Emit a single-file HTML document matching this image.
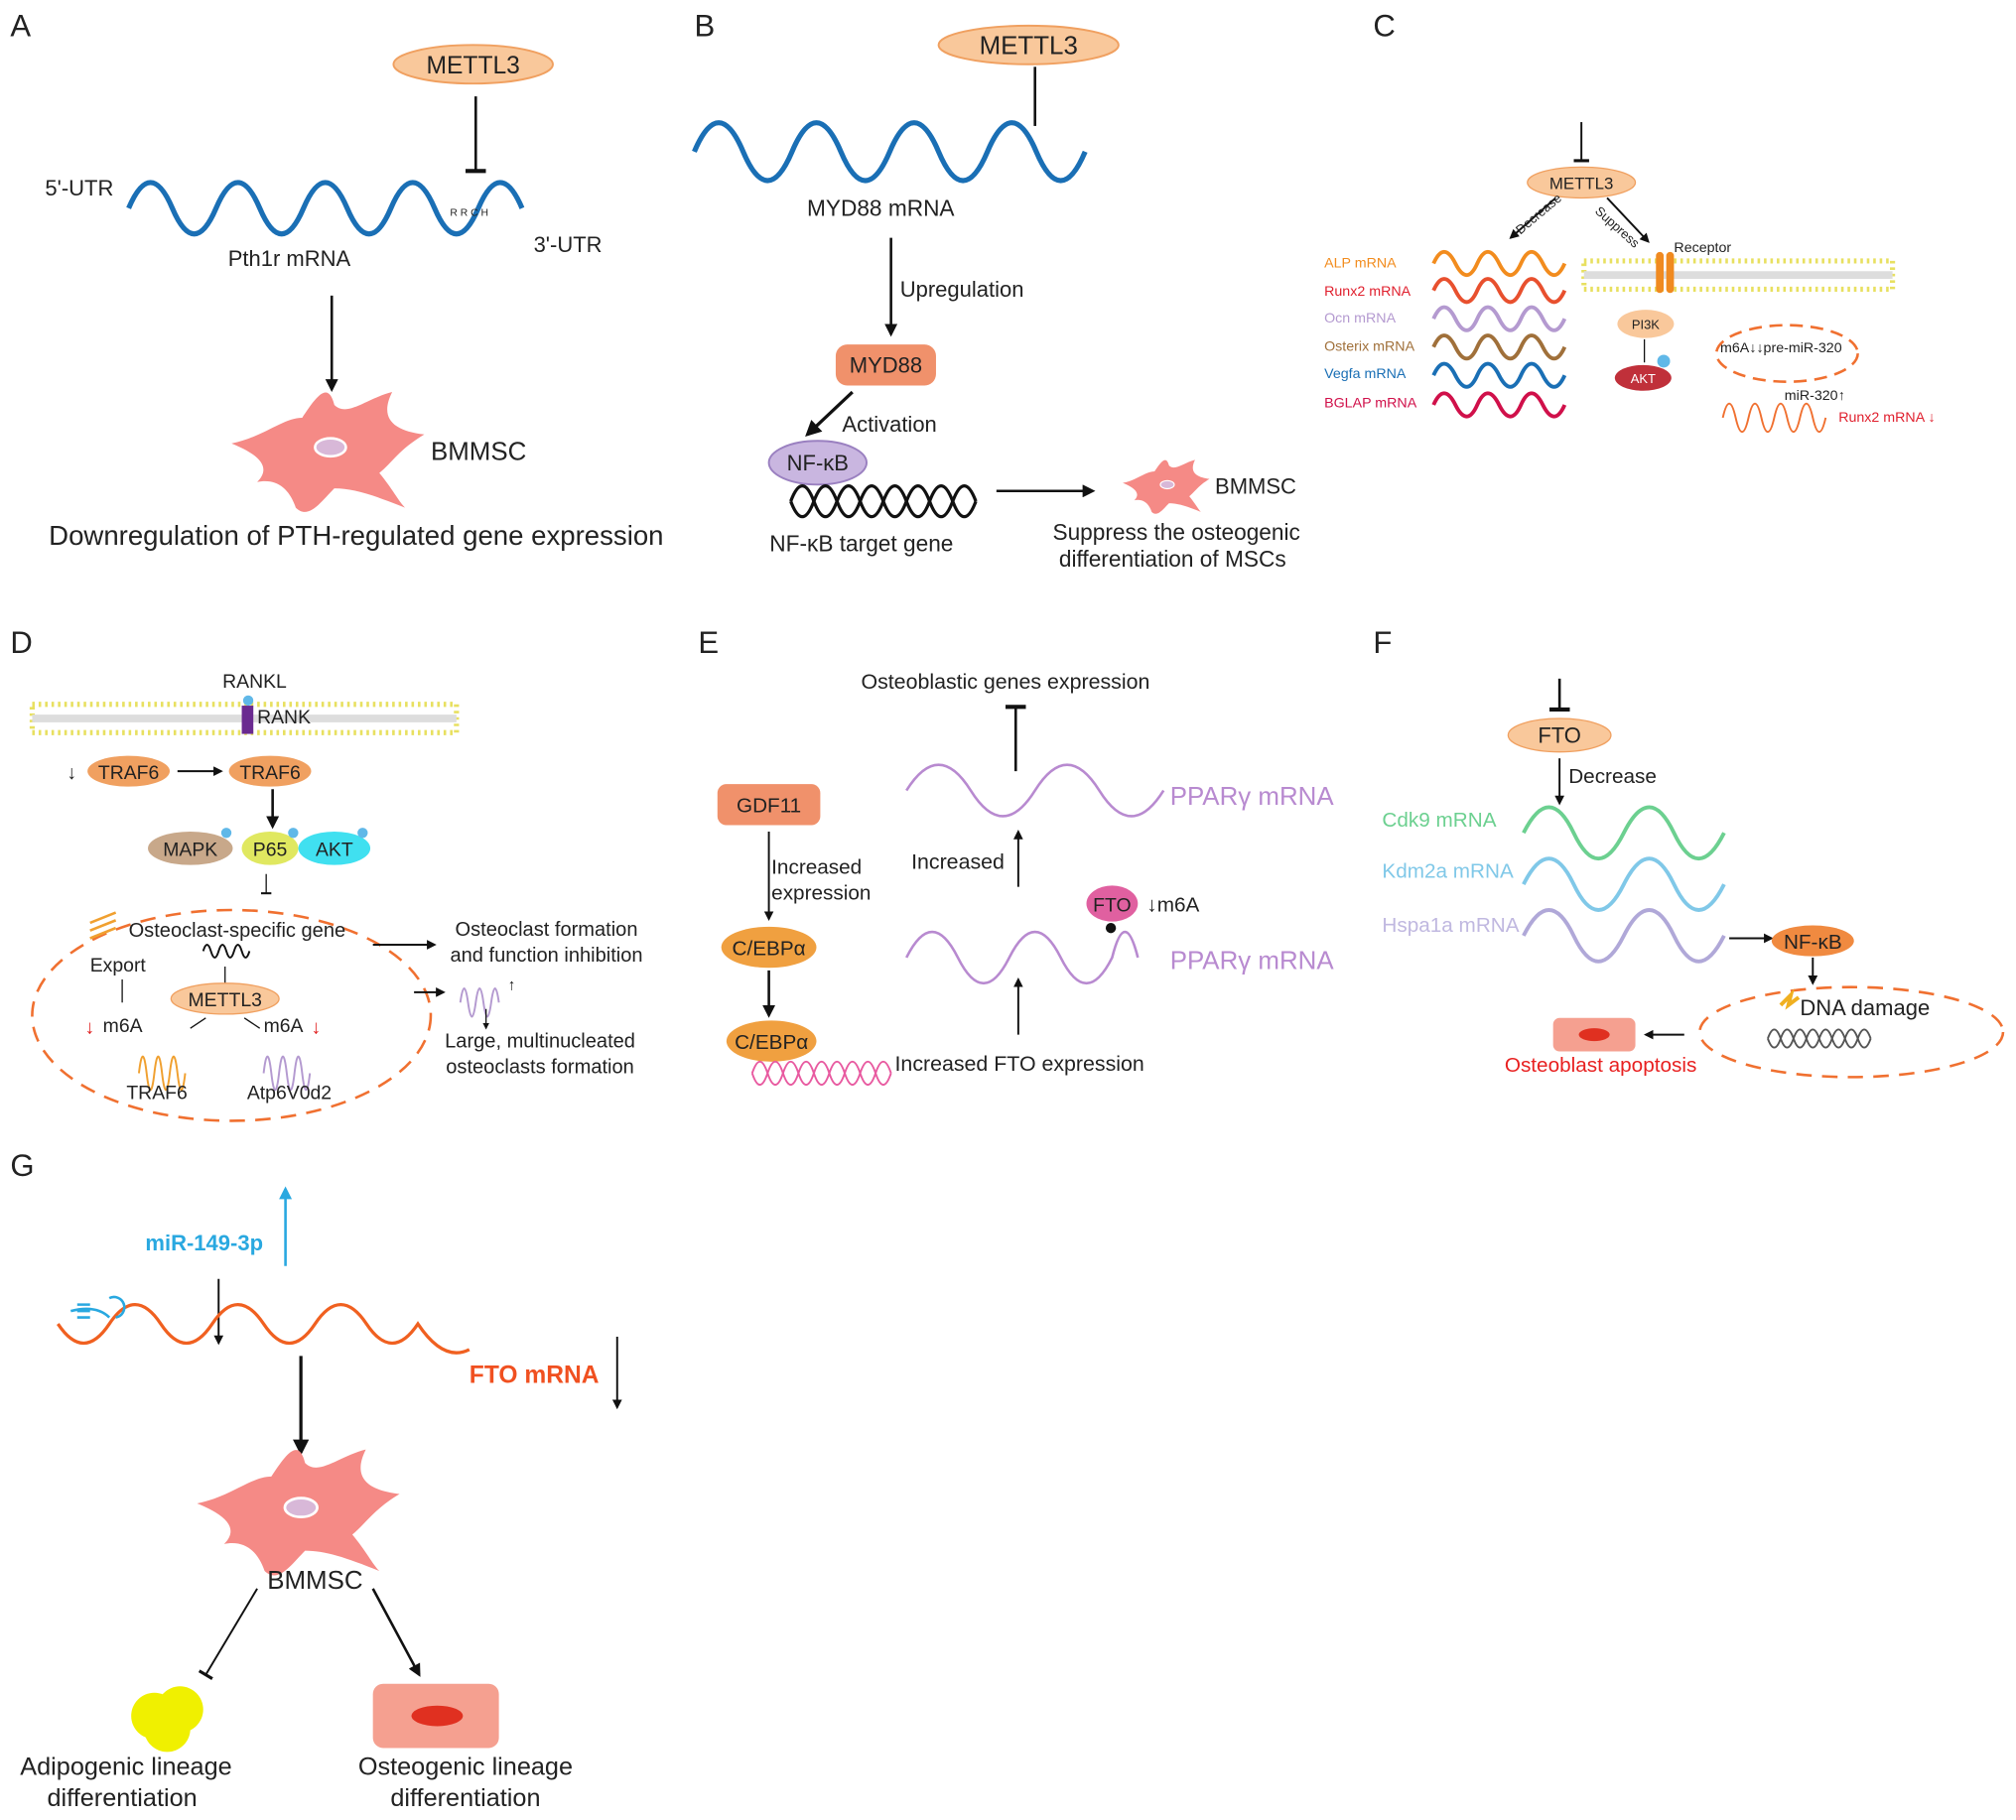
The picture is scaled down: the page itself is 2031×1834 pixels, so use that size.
<!DOCTYPE html>
<html><head><meta charset="utf-8"><style>
html,body{margin:0;padding:0;background:#fff}
svg{display:block}
text{font-family:"Liberation Sans",Arial,sans-serif;fill:#222}
</style></head><body>
<svg width="2031" height="1834" viewBox="0 0 1568 1416" xmlns="http://www.w3.org/2000/svg">
<defs>
<marker id="ar" viewBox="0 0 10 10" refX="8" refY="5" markerWidth="5" markerHeight="5" orient="auto"><path d="M0,0L10,5L0,10z" fill="#111"/></marker>
<marker id="arc" viewBox="0 0 10 10" refX="8" refY="5" markerWidth="5" markerHeight="5" orient="auto"><path d="M0,0L10,5L0,10z" fill="#29a8e0"/></marker>
<marker id="bar" viewBox="0 0 10 10" refX="5" refY="5" markerWidth="8" markerHeight="8" orient="auto"><path d="M5,0L5,10" stroke="#111" stroke-width="2"/></marker>
<g id="cell"><path d="M-75,-5 C-50,-10 -35,-25 -20,-25 C-10,-40 0,-55 5,-35 C15,-25 30,-40 50,-45 C40,-25 50,-15 75,-12 C55,0 50,10 40,18 C50,30 55,40 60,45 C35,35 20,30 5,30 C-5,40 -15,55 -25,45 C-30,30 -40,22 -55,25 C-45,15 -50,5 -75,-5Z" fill="#f58a86"/><ellipse cx="2" cy="-2" rx="12" ry="7" fill="#d8b8d8" stroke="#fff" stroke-width="2"/></g>
</defs>

<!-- Panel A -->
<text x="8" y="28" font-size="24">A</text>
<ellipse cx="368" cy="50" rx="62" ry="15" fill="#f9c89b" stroke="#f0a060" stroke-width="1.5"/>
<text x="368" y="57" font-size="19" text-anchor="middle">METTL3</text>
<line x1="370" y1="75" x2="370" y2="133" stroke="#111" stroke-width="2" marker-end="url(#bar)"/>
<path d="M100,162 q17,-40 34,0 t34,0 t34,0 t34,0 t34,0 t34,0 t34,0 t34,0 t34,0" fill="none" stroke="#1a6fb5" stroke-width="4"/>
<text x="35" y="152" font-size="17">5'-UTR</text>
<text x="415" y="196" font-size="17">3'-UTR</text>
<text x="350" y="168" font-size="8">R R C H</text>
<text x="225" y="207" font-size="17" text-anchor="middle">Pth1r mRNA</text>
<line x1="258" y1="230" x2="258" y2="303" stroke="#111" stroke-width="2" marker-end="url(#ar)"/>
<use href="#cell" transform="translate(255,350) scale(1)"/>
<text x="335" y="358" font-size="20">BMMSC</text>
<text x="277" y="424" font-size="21.3" text-anchor="middle">Downregulation of PTH-regulated gene expression</text>

<!-- Panel B -->
<text x="540" y="28" font-size="24">B</text>
<ellipse cx="800" cy="35" rx="70" ry="15" fill="#f9c89b" stroke="#f0a060" stroke-width="1.5"/>
<text x="800" y="42" font-size="20" text-anchor="middle">METTL3</text>
<line x1="805" y1="52" x2="805" y2="98" stroke="#111" stroke-width="2"/>
<path d="M540,118 q19,-45 38,0 t38,0 t38,0 t38,0 t38,0 t38,0 t38,0 t38,0" fill="none" stroke="#1a6fb5" stroke-width="4"/>
<text x="685" y="168" font-size="17.5" text-anchor="middle">MYD88 mRNA</text>
<line x1="693" y1="185" x2="693" y2="260" stroke="#111" stroke-width="2" marker-end="url(#ar)"/>
<text x="700" y="231" font-size="17">Upregulation</text>
<rect x="650" y="268" width="78" height="32" rx="9" fill="#f0916b"/>
<text x="689" y="290" font-size="17" text-anchor="middle">MYD88</text>
<line x1="663" y1="305" x2="628" y2="338" stroke="#111" stroke-width="2.5" marker-end="url(#ar)"/>
<text x="655" y="336" font-size="17">Activation</text>
<ellipse cx="636" cy="360" rx="38" ry="17" fill="#c9b6e0" stroke="#9a80c0" stroke-width="1.5"/>
<text x="636" y="366" font-size="17" text-anchor="middle">NF-κB</text>
<path d="M615,390 q9,-24 18,0 t18,0 t18,0 t18,0 t18,0 t18,0 t18,0 t18,0" fill="none" stroke="#111" stroke-width="2.5"/>
<path d="M615,390 q9,24 18,0 t18,0 t18,0 t18,0 t18,0 t18,0 t18,0 t18,0" fill="none" stroke="#111" stroke-width="2.5"/>
<text x="670" y="429" font-size="17.5" text-anchor="middle">NF-κB target gene</text>
<line x1="775" y1="382" x2="850" y2="382" stroke="#111" stroke-width="2" marker-end="url(#ar)"/>
<use href="#cell" transform="translate(907,378) scale(0.45)"/>
<text x="945" y="384" font-size="17">BMMSC</text>
<text x="915" y="420" font-size="17.5" text-anchor="middle">Suppress the osteogenic</text>
<text x="912" y="441" font-size="17.5" text-anchor="middle">differentiation of MSCs</text>

<!-- Panel C -->
<text x="1068" y="28" font-size="24">C</text>
<line x1="1230" y1="95" x2="1230" y2="125" stroke="#111" stroke-width="1.5" marker-end="url(#bar)"/>
<ellipse cx="1230" cy="142" rx="42" ry="12" fill="#f9c89b" stroke="#f0a060"/>
<text x="1230" y="147" font-size="13" text-anchor="middle">METTL3</text>
<line x1="1210" y1="154" x2="1175" y2="185" stroke="#111" stroke-width="1.5" marker-end="url(#ar)"/>
<line x1="1250" y1="154" x2="1282" y2="188" stroke="#111" stroke-width="1.5" marker-end="url(#ar)"/>
<text x="1180" y="180" font-size="10" transform="rotate(-40 1185 178)">Decrease</text>
<text x="1240" y="165" font-size="10" transform="rotate(42 1240 165)">Suppress</text>
<text x="1030" y="208" font-size="11" style="fill:#f28c1e">ALP mRNA</text>
<text x="1030" y="230" font-size="11" style="fill:#e0202e">Runx2 mRNA</text>
<text x="1030" y="251" font-size="11" style="fill:#b49ad0">Ocn mRNA</text>
<text x="1030" y="273" font-size="11" style="fill:#a0703a">Osterix mRNA</text>
<text x="1030" y="294" font-size="11" style="fill:#1a6fb5">Vegfa mRNA</text>
<text x="1030" y="317" font-size="11" style="fill:#d0104a">BGLAP mRNA</text>
<g fill="none" stroke-width="3">
<path d="M1115,205 q8,-18 17,0 t17,0 t17,0 t17,0 t17,0 t17,0" stroke="#f28c1e"/>
<path d="M1115,226 q8,-18 17,0 t17,0 t17,0 t17,0 t17,0 t17,0" stroke="#e8502e"/>
<path d="M1115,248 q8,-18 17,0 t17,0 t17,0 t17,0 t17,0 t17,0" stroke="#b49ad0"/>
<path d="M1115,270 q8,-18 17,0 t17,0 t17,0 t17,0 t17,0 t17,0" stroke="#a0703a"/>
<path d="M1115,292 q8,-18 17,0 t17,0 t17,0 t17,0 t17,0 t17,0" stroke="#1a6fb5"/>
<path d="M1115,315 q8,-18 17,0 t17,0 t17,0 t17,0 t17,0 t17,0" stroke="#d0104a"/>
</g>
<rect x="1232" y="203" width="240" height="22" fill="#fff" stroke="#e8e060" stroke-dasharray="2 3" stroke-width="4"/>
<line x1="1232" y1="214" x2="1472" y2="214" stroke="#ddd" stroke-width="6"/>
<rect x="1288" y="196" width="6" height="32" rx="3" fill="#f08a20"/><rect x="1296" y="196" width="6" height="32" rx="3" fill="#f08a20"/>
<text x="1302" y="196" font-size="11">Receptor</text>
<ellipse cx="1280" cy="252" rx="22" ry="11" fill="#f9c89b"/><text x="1280" y="256" font-size="10" text-anchor="middle">PI3K</text>
<line x1="1279" y1="264" x2="1279" y2="282" stroke="#111" stroke-width="1"/>
<ellipse cx="1278" cy="294" rx="22" ry="10" fill="#c0303a"/><text x="1278" y="298" font-size="10" text-anchor="middle" style="fill:#fff">AKT</text>
<circle cx="1294" cy="281" r="5" fill="#60b8e8"/>
<ellipse cx="1390" cy="275" rx="55" ry="22" fill="none" stroke="#f07030" stroke-width="2" stroke-dasharray="10 6"/>
<text x="1338" y="274" font-size="11">m6A↓↓pre-miR-320</text>
<text x="1388" y="311" font-size="11">miR-320↑</text>
<path d="M1340,325 q5,-22 10,0 t10,0 t10,0 t10,0 t10,0 t10,0 t10,0 t10,0" fill="none" stroke="#f07030" stroke-width="1.5"/>
<text x="1430" y="328" font-size="11" style="fill:#e0202e">Runx2 mRNA ↓</text>

<!-- Panel D -->
<text x="8" y="508" font-size="24">D</text>
<rect x="25" y="548" width="330" height="22" fill="#fff" stroke="#e8e060" stroke-dasharray="2 3" stroke-width="4"/>
<line x1="25" y1="559" x2="355" y2="559" stroke="#ddd" stroke-width="6"/>
<text x="198" y="535" font-size="15" text-anchor="middle">RANKL</text>
<circle cx="193" cy="545" r="4" fill="#60b8e8"/>
<rect x="188" y="549" width="9" height="22" fill="#6a2a90"/>
<text x="200" y="563" font-size="15">RANK</text>
<text x="52" y="606" font-size="15">↓</text>
<ellipse cx="100" cy="600" rx="32" ry="12" fill="#f0a060"/><text x="100" y="606" font-size="15" text-anchor="middle">TRAF6</text>
<line x1="138" y1="600" x2="172" y2="600" stroke="#111" stroke-width="1.5" marker-end="url(#ar)"/>
<ellipse cx="210" cy="600" rx="32" ry="12" fill="#f0a060"/><text x="210" y="606" font-size="15" text-anchor="middle">TRAF6</text>
<line x1="212" y1="614" x2="212" y2="643" stroke="#111" stroke-width="2" marker-end="url(#ar)"/>
<ellipse cx="148" cy="660" rx="33" ry="13" fill="#c8a88a"/><text x="148" y="666" font-size="15" text-anchor="middle">MAPK</text>
<ellipse cx="210" cy="660" rx="22" ry="13" fill="#e0e860"/><text x="210" y="666" font-size="15" text-anchor="middle">P65</text>
<ellipse cx="260" cy="660" rx="28" ry="13" fill="#40e0f0"/><text x="260" y="666" font-size="15" text-anchor="middle">AKT</text>
<circle cx="176" cy="648" r="4" fill="#60b8e8"/><circle cx="228" cy="648" r="4" fill="#60b8e8"/><circle cx="282" cy="648" r="4" fill="#60b8e8"/>
<line x1="207" y1="680" x2="207" y2="695" stroke="#111" stroke-width="1" marker-end="url(#bar)"/>
<ellipse cx="180" cy="790" rx="155" ry="82" fill="none" stroke="#f07030" stroke-width="2" stroke-dasharray="12 8"/>
<text x="100" y="729" font-size="15.5">Osteoclast-specific gene</text>
<path d="M158,740 q3,-10 6,0 t6,0 t6,0 t6,0 t6,0 t6,0" fill="none" stroke="#111" stroke-width="1.5"/>
<path d="M70,718 l20,-8 M70,724 l20,-8 M70,730 l20,-8" stroke="#f0a030" stroke-width="2"/>
<text x="70" y="756" font-size="15">Export</text>
<line x1="95" y1="780" x2="95" y2="762" stroke="#111" stroke-width="1"/>
<line x1="175" y1="752" x2="175" y2="765" stroke="#111" stroke-width="1"/>
<ellipse cx="175" cy="777" rx="42" ry="12" fill="#f9c89b" stroke="#f0a060"/><text x="175" y="783" font-size="15" text-anchor="middle">METTL3</text>
<path d="M160,792 l-12,8 M190,792 l12,8" stroke="#111"/>
<text x="66" y="804" font-size="15" style="fill:#e02020">↓</text><text x="80" y="803" font-size="15">m6A</text>
<text x="205" y="803" font-size="15">m6A</text><text x="242" y="804" font-size="15" style="fill:#e02020">↓</text>
<path d="M108,835 q3,-26 6,0 t6,0 t6,0 t6,0 t6,0 t6,0" fill="none" stroke="#f0a030" stroke-width="1.5"/>
<path d="M205,835 q3,-26 6,0 t6,0 t6,0 t6,0 t6,0 t6,0" fill="none" stroke="#b49ad0" stroke-width="1.5"/>
<text x="122" y="855" font-size="15" text-anchor="middle">TRAF6</text>
<text x="225" y="855" font-size="15" text-anchor="middle">Atp6V0d2</text>
<line x1="290" y1="735" x2="338" y2="735" stroke="#111" stroke-width="1.5" marker-end="url(#ar)"/>
<line x1="322" y1="772" x2="345" y2="772" stroke="#111" stroke-width="1.5" marker-end="url(#ar)"/>
<text x="425" y="728" font-size="15.5" text-anchor="middle">Osteoclast formation</text>
<text x="425" y="748" font-size="15.5" text-anchor="middle">and function inhibition</text>
<path d="M358,780 q3,-22 6,0 t6,0 t6,0 t6,0 t6,0" fill="none" stroke="#b49ad0" stroke-width="1.5"/>
<text x="395" y="770" font-size="12">↑</text>
<line x1="378" y1="785" x2="378" y2="800" stroke="#111" marker-end="url(#ar)"/>
<text x="420" y="815" font-size="15.5" text-anchor="middle">Large, multinucleated</text>
<text x="420" y="835" font-size="15.5" text-anchor="middle">osteoclasts formation</text>

<!-- Panel E -->
<text x="543" y="508" font-size="24">E</text>
<rect x="558" y="610" width="80" height="32" rx="7" fill="#f0916b"/>
<text x="598" y="632" font-size="16" text-anchor="middle">GDF11</text>
<line x1="598" y1="647" x2="598" y2="715" stroke="#111" stroke-width="1.5" marker-end="url(#ar)"/>
<text x="600" y="680" font-size="16">Increased</text>
<text x="600" y="700" font-size="16">expression</text>
<ellipse cx="598" cy="737" rx="37" ry="16" fill="#f0a040"/><text x="598" y="743" font-size="16" text-anchor="middle">C/EBPα</text>
<line x1="598" y1="755" x2="598" y2="790" stroke="#111" stroke-width="2" marker-end="url(#ar)"/>
<ellipse cx="600" cy="810" rx="35" ry="16" fill="#f0a040"/><text x="600" y="816" font-size="16" text-anchor="middle">C/EBPα</text>
<path d="M585,835 q6,-18 12,0 t12,0 t12,0 t12,0 t12,0 t12,0 t12,0 t12,0 t12,0" fill="none" stroke="#e85aa0" stroke-width="1.5"/>
<path d="M585,835 q6,18 12,0 t12,0 t12,0 t12,0 t12,0 t12,0 t12,0 t12,0 t12,0" fill="none" stroke="#e85aa0" stroke-width="1.5"/>
<text x="782" y="536" font-size="16.5" text-anchor="middle">Osteoblastic genes expression</text>
<line x1="790" y1="600" x2="790" y2="550" stroke="#111" stroke-width="2" marker-end="url(#bar)"/>
<path d="M705,615 q25,-40 50,0 t50,0 t50,0 t50,0" fill="none" stroke="#b88ad0" stroke-width="2"/>
<text x="910" y="626" font-size="20" style="fill:#b88ad0">PPARγ mRNA</text>
<text x="745" y="676" font-size="16.5" text-anchor="middle">Increased</text>
<line x1="792" y1="690" x2="792" y2="647" stroke="#111" stroke-width="1.5" marker-end="url(#ar)"/>
<path d="M705,745 q20,-40 40,0 t40,0 t40,0 t40,0 q10,-40 20,0" fill="none" stroke="#b88ad0" stroke-width="2"/>
<circle cx="864" cy="722" r="4" fill="#111"/>
<ellipse cx="865" cy="703" rx="20" ry="14" fill="#e060a0"/><text x="865" y="709" font-size="15" text-anchor="middle">FTO</text>
<text x="892" y="709" font-size="16">↓m6A</text>
<text x="910" y="754" font-size="20" style="fill:#b88ad0">PPARγ mRNA</text>
<line x1="792" y1="805" x2="792" y2="762" stroke="#111" stroke-width="1.5" marker-end="url(#ar)"/>
<text x="793" y="833" font-size="16.5" text-anchor="middle">Increased FTO expression</text>

<!-- Panel F -->
<text x="1068" y="508" font-size="24">F</text>
<line x1="1213" y1="528" x2="1213" y2="552" stroke="#111" stroke-width="2" marker-end="url(#bar)"/>
<ellipse cx="1213" cy="572" rx="40" ry="13" fill="#f9c89b" stroke="#f0a060"/><text x="1213" y="578" font-size="17" text-anchor="middle">FTO</text>
<line x1="1213" y1="590" x2="1213" y2="625" stroke="#111" stroke-width="1.5" marker-end="url(#ar)"/>
<text x="1220" y="609" font-size="16">Decrease</text>
<text x="1075" y="643" font-size="16" style="fill:#6cd090">Cdk9 mRNA</text>
<text x="1075" y="683" font-size="16" style="fill:#80c8e8">Kdm2a mRNA</text>
<text x="1075" y="725" font-size="16" style="fill:#c0b8e0">Hspa1a mRNA</text>
<path d="M1185,648 q20,-40 39,0 t39,0 t39,0 t39,0" fill="none" stroke="#6cd090" stroke-width="3"/>
<path d="M1185,688 q20,-40 39,0 t39,0 t39,0 t39,0" fill="none" stroke="#80c8e8" stroke-width="3"/>
<path d="M1185,728 q20,-40 39,0 t39,0 t39,0 t39,0" fill="none" stroke="#b0a8d8" stroke-width="3"/>
<line x1="1345" y1="730" x2="1378" y2="730" stroke="#111" stroke-width="1.5" marker-end="url(#ar)"/>
<ellipse cx="1410" cy="732" rx="32" ry="12" fill="#f08a40"/><text x="1410" y="738" font-size="16" text-anchor="middle">NF-κB</text>
<line x1="1410" y1="745" x2="1410" y2="765" stroke="#111" stroke-width="1.5" marker-end="url(#ar)"/>
<ellipse cx="1440" cy="803" rx="118" ry="35" fill="none" stroke="#f07030" stroke-width="2" stroke-dasharray="12 8"/>
<text x="1400" y="790" font-size="17">DNA damage</text>
<path d="M1385,782 l8,-8 l-2,8 l8,-6" stroke="#f0b020" stroke-width="3" fill="none"/>
<path d="M1375,808 q5,-14 10,0 t10,0 t10,0 t10,0 t10,0 t10,0 t10,0 t10,0" fill="none" stroke="#555" stroke-width="1.5"/>
<path d="M1375,808 q5,14 10,0 t10,0 t10,0 t10,0 t10,0 t10,0 t10,0 t10,0" fill="none" stroke="#555" stroke-width="1.5"/>
<line x1="1310" y1="805" x2="1280" y2="805" stroke="#111" stroke-width="1.5" marker-end="url(#ar)"/>
<rect x="1208" y="792" width="64" height="26" rx="5" fill="#f5a090"/><ellipse cx="1240" cy="805" rx="12" ry="5" fill="#e03020"/>
<text x="1245" y="834" font-size="16" text-anchor="middle" style="fill:#e82020">Osteoblast apoptosis</text>

<!-- Panel G -->
<text x="8" y="915" font-size="24">G</text>
<line x1="222" y1="985" x2="222" y2="925" stroke="#29a8e0" stroke-width="2" marker-end="url(#arc)"/>
<text x="113" y="973" font-size="17" font-weight="bold" style="fill:#29a8e0">miR-149-3p</text>
<line x1="170" y1="995" x2="170" y2="1045" stroke="#111" stroke-width="1.5" marker-end="url(#ar)"/>
<path d="M45,1030 q20,30 40,0 t40,0 t40,0 t40,0 t40,0 t40,0 t40,0 q20,30 40,20" fill="none" stroke="#f06020" stroke-width="2.5"/>
<path d="M55,1020 q20,-5 30,5 M60,1015 l10,0 M60,1020 l10,0 M60,1025 l10,0 M85,1010 a8,8 0 1 1 5,15" fill="none" stroke="#29a8e0" stroke-width="2"/>
<text x="365" y="1076" font-size="19" font-weight="bold" style="fill:#f05020">FTO mRNA</text>
<line x1="480" y1="1040" x2="480" y2="1095" stroke="#111" stroke-width="1.5" marker-end="url(#ar)"/>
<line x1="234" y1="1055" x2="234" y2="1130" stroke="#111" stroke-width="2.5" marker-end="url(#ar)"/>
<use href="#cell" transform="translate(232,1175) scale(1.05)"/>
<text x="245" y="1236" font-size="20" text-anchor="middle">BMMSC</text>
<line x1="200" y1="1236" x2="160" y2="1303" stroke="#111" stroke-width="1.5" marker-end="url(#bar)"/>
<line x1="290" y1="1236" x2="326" y2="1303" stroke="#111" stroke-width="2" marker-end="url(#ar)"/>
<circle cx="120" cy="1335" r="18" fill="#f0f000"/><circle cx="140" cy="1330" r="18" fill="#f0f000"/><circle cx="130" cy="1345" r="18" fill="#f0f000"/>
<rect x="290" y="1310" width="98" height="50" rx="8" fill="#f5a090"/><ellipse cx="340" cy="1335" rx="20" ry="8" fill="#e03020"/>
<text x="98" y="1381" font-size="19.5" text-anchor="middle">Adipogenic lineage</text>
<text x="95" y="1405" font-size="19.5" text-anchor="middle">differentiation</text>
<text x="362" y="1381" font-size="19.5" text-anchor="middle">Osteogenic lineage</text>
<text x="362" y="1405" font-size="19.5" text-anchor="middle">differentiation</text>
</svg>
</body></html>
